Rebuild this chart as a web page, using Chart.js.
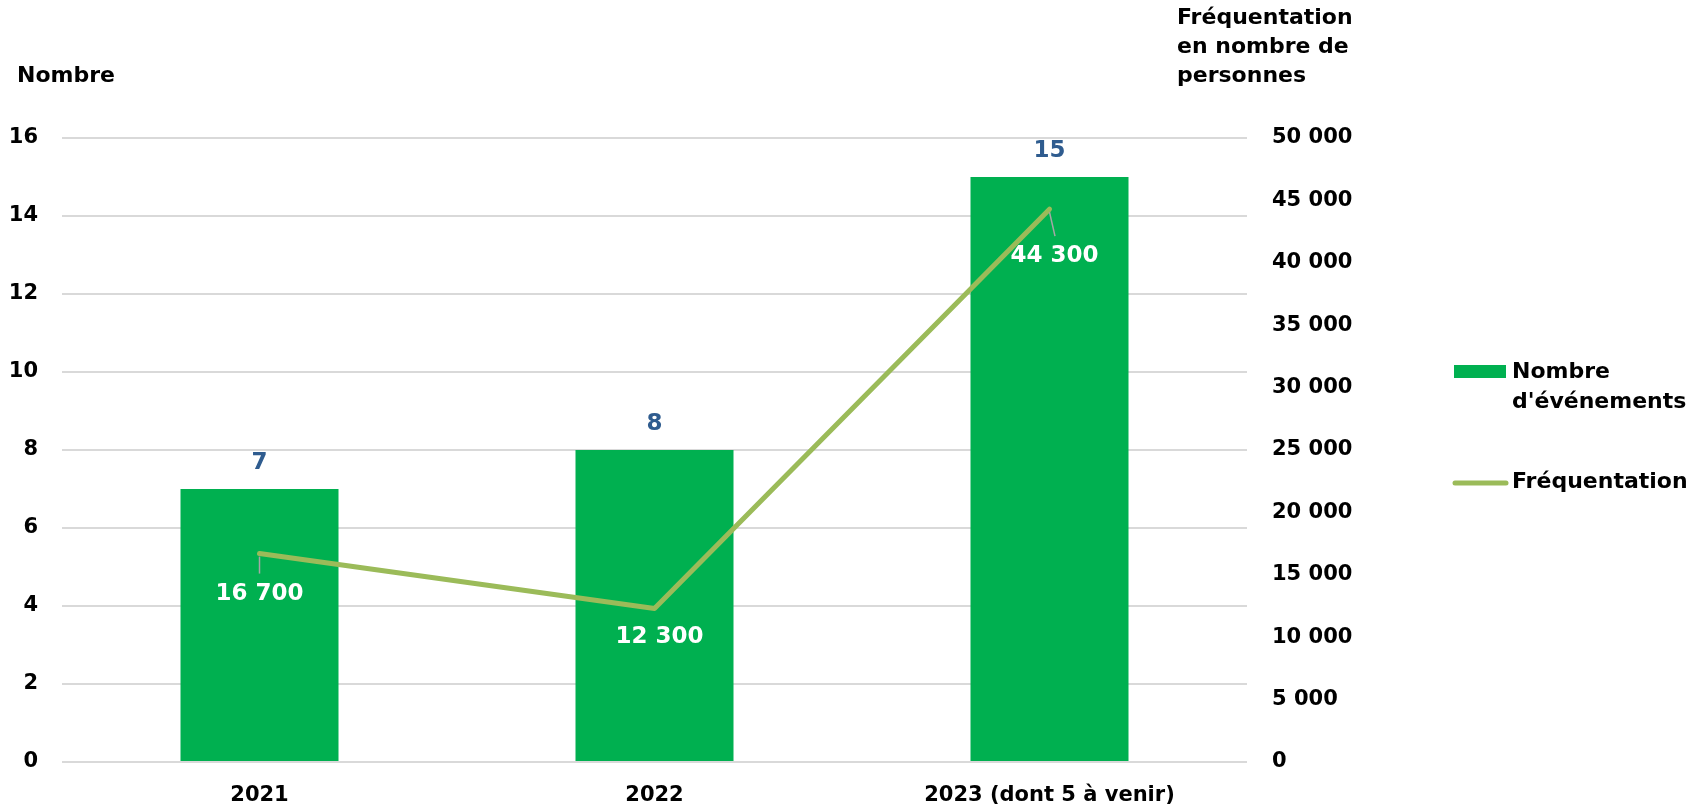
<!DOCTYPE html>
<html lang="fr">
<head>
<meta charset="utf-8">
<title>Nombre d'événements et fréquentation</title>
<script src="https://cdn.jsdelivr.net/npm/chart.js@4.4.1/dist/chart.umd.min.js"></script>
<style>
	html, body { margin: 0; padding: 0; background: #ffffff; }
	#wrap { position: relative; width: 1696px; height: 806px; }
</style>
</head>
<body>
<div id="wrap"><canvas id="chart"></canvas></div>
<script>
(function () {
	'use strict';

	// ─── Data ───
	var years = ['2021', '2022', '2023 (dont 5 à venir)'];
	var eventCounts = [7, 8, 15];
	var attendance = [16700, 12300, 44300];

	var leftTicks = { min: 0, max: 16, step: 2 };
	var rightTicks = { min: 0, max: 50000, step: 5000 };

	var leftTitle = ['Nombre'];
	var rightTitle = ['Fréquentation', 'en nombre de', 'personnes'];
	var legendBar = ['Nombre', "d'événements"];
	var legendLine = ['Fréquentation'];

	// ─── Palette ───
	var colors = {
		bar: '#00B050',
		line: '#9BBB59',
		barLabel: '#2F5C8F',
		lineLabel: '#ffffff',
		leader: '#A6A6A6',
		grid: '#D9D9D9',
		text: '#000000',
	};

	var FONT = "'DejaVu Sans', sans-serif";

	function frNumber(v) {
		return String(Math.round(v)).replace(/\B(?=(\d{3})+(?!\d))/g, ' ');
	}

	// offsets of the line labels from their point (label centre)
	var lineLabelOffsets = [
		{ dx: 0, dy: 40, leader: true },
		{ dx: 5, dy: 29, leader: false },
		{ dx: 5, dy: 47, leader: true },
	];

	// ─── Labels, titles and legend ───
	var decorPlugin = {
		id: 'decor',
		afterDatasetsDraw: function (chart) {
			var ctx = chart.ctx;
			ctx.save();
			ctx.textAlign = 'center';
			ctx.textBaseline = 'middle';

			// bar values above the bars
			var barMeta = chart.getDatasetMeta(0);
			ctx.font = 'bold 23px ' + FONT;
			ctx.fillStyle = colors.barLabel;
			barMeta.data.forEach(function (bar, i) {
				ctx.fillText(String(eventCounts[i]), bar.x, bar.y - 26);
			});

			// line values with leader lines
			var lineMeta = chart.getDatasetMeta(1);
			lineMeta.data.forEach(function (pt, i) {
				var off = lineLabelOffsets[i];
				var lx = pt.x + off.dx;
				var ly = pt.y + off.dy;
				if (off.leader) {
					ctx.strokeStyle = colors.leader;
					ctx.lineWidth = 1.5;
					ctx.beginPath();
					ctx.moveTo(pt.x, pt.y + 3);
					ctx.lineTo(pt.x + off.dx * 1.1, ly - 20);
					ctx.stroke();
				}
				ctx.fillStyle = colors.lineLabel;
				ctx.font = 'bold 23px ' + FONT;
				ctx.fillText(frNumber(attendance[i]), lx, ly);
			});
			ctx.restore();
		},
		afterDraw: function (chart) {
			var ctx = chart.ctx;
			ctx.save();
			ctx.fillStyle = colors.text;
			ctx.textBaseline = 'middle';
			ctx.textAlign = 'left';
			ctx.font = 'bold 22px ' + FONT;

			// axis titles
			leftTitle.forEach(function (t, i) {
				ctx.fillText(t, 17, 76 + i * 29);
			});
			rightTitle.forEach(function (t, i) {
				ctx.fillText(t, 1177, 18 + i * 29);
			});

			// legend
			ctx.fillStyle = colors.bar;
			ctx.fillRect(1454, 365, 52, 13);
			ctx.strokeStyle = colors.line;
			ctx.lineWidth = 5;
			ctx.lineCap = 'round';
			ctx.beginPath();
			ctx.moveTo(1455, 483);
			ctx.lineTo(1506, 483);
			ctx.stroke();

			ctx.fillStyle = colors.text;
			legendBar.forEach(function (t, i) {
				ctx.fillText(t, 1512, 372 + i * 30);
			});
			legendLine.forEach(function (t, i) {
				ctx.fillText(t, 1512, 482 + i * 30);
			});
			ctx.restore();
		}
	};

	var ctx = document.getElementById('chart').getContext('2d');

	new Chart(ctx, {
		type: 'bar',
		data: {
			labels: years,
			datasets: [{
				type: 'bar',
				label: "Nombre d'événements",
				data: eventCounts,
				yAxisID: 'y',
				backgroundColor: colors.bar,
				borderWidth: 0,
				barPercentage: 0.4,
				categoryPercentage: 1,
				order: 2,
			}, {
				type: 'line',
				label: 'Fréquentation',
				data: attendance,
				yAxisID: 'y1',
				borderColor: colors.line,
				backgroundColor: colors.line,
				borderWidth: 5,
				borderCapStyle: 'round',
				borderJoinStyle: 'round',
				pointRadius: 0,
				tension: 0,
				fill: false,
				order: 1,
			}]
		},
		options: {
			responsive: true,
			maintainAspectRatio: false,
			animation: false,
			layout: {
				padding: { top: 138, right: 0, bottom: 0, left: 0 }
			},
			plugins: {
				legend: { display: false },
				tooltip: { enabled: false },
			},
			scales: {
				x: {
					grid: { display: false },
					border: { display: false },
					ticks: {
						color: colors.text,
						font: { family: FONT, size: 21, weight: 'bold' },
						padding: 13,
						maxRotation: 0,
					},
					afterFit: function (scale) { scale.height = 44; }
				},
				y: {
					position: 'left',
					min: leftTicks.min,
					max: leftTicks.max,
					grid: {
						color: colors.grid,
						lineWidth: 2,
						drawTicks: false,
					},
					border: { display: false },
					ticks: {
						stepSize: leftTicks.step,
						color: colors.text,
						font: { family: FONT, size: 21, weight: 'bold' },
						padding: 24,
					},
					afterFit: function (scale) { scale.width = 62; }
				},
				y1: {
					position: 'right',
					min: rightTicks.min,
					max: rightTicks.max,
					grid: { display: false, drawTicks: false },
					border: { display: false },
					ticks: {
						stepSize: rightTicks.step,
						color: colors.text,
						font: { family: FONT, size: 21, weight: 'bold' },
						padding: 25,
						callback: function (v) { return frNumber(v); }
					},
					afterFit: function (scale) { scale.width = 449; }
				}
			}
		},
		plugins: [decorPlugin]
	});
})();
</script>
</body>
</html>
